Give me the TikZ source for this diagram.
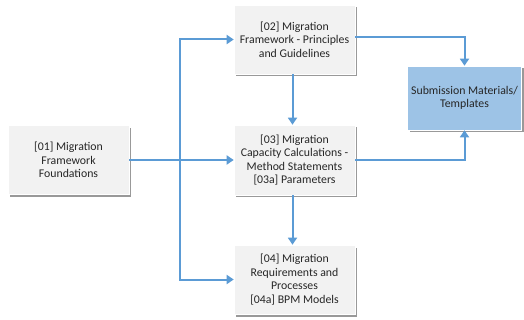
\documentclass[tikz,border=0pt]{standalone}
\usepackage{fontspec}
\setmainfont{Carlito}
\usetikzlibrary{shadows,arrows.meta}
\definecolor{boxfill}{HTML}{F2F2F2}
\definecolor{subfill}{HTML}{9DC3E6}
\definecolor{arr}{HTML}{5B9BD5}
\tikzset{
  box/.style={draw=white, line width=0.6pt, fill=boxfill, align=center, minimum width=121pt, minimum height=69pt, inner sep=1pt,
    font=\fontsize{11.8}{13.6}\selectfont, text=black!85,
    drop shadow={shadow xshift=2pt, shadow yshift=-2.5pt, fill=black!50, opacity=0.8}},
  subbox/.style={box, fill=subfill, minimum width=114pt, minimum height=64pt},
  conn/.style={draw=arr, line width=2pt, -{Triangle[length=7pt,width=9pt]}},
  line/.style={draw=arr, line width=2pt}
}
\begin{document}
\begin{tikzpicture}[x=1pt,y=-1pt]
\useasboundingbox (0,0) rectangle (524,320);
\node[box] (b1) at (68.5,160) {[01] Migration\\Framework\\Foundations};
\node[box] (b2) at (294.5,39.5) {[02] Migration\\Framework - Principles\\and Guidelines};
\node[box, minimum height=70pt] (b3) at (294.5,160) {[03] Migration\\Capacity Calculations -\\Method Statements\\{[03a]} Parameters};
\node[box] (b4) at (294.5,279.5) {[04] Migration\\Requirements and\\Processes\\{[04a]} BPM Models};
\node[subbox] (s) at (464.5,98) {Submission Materials/\\Templates};
\coordinate (j) at (180,160);
\draw[line] (b1.east) -- (j);
\draw[conn] (j) |- (b2.west);
\draw[conn] (j) |- (b4.west);
\draw[conn] (j) -- (b3.west);
\draw[conn] ([xshift=-2pt]b2.south) -- ([xshift=-2pt]b3.north);
\draw[conn] ([xshift=-2pt]b3.south) -- ([xshift=-2pt]b4.north);
\draw[conn] ([yshift=2pt]b2.east) -| (s.north);
\draw[conn] (b3.east) -| (s.south);
\end{tikzpicture}
\end{document}
